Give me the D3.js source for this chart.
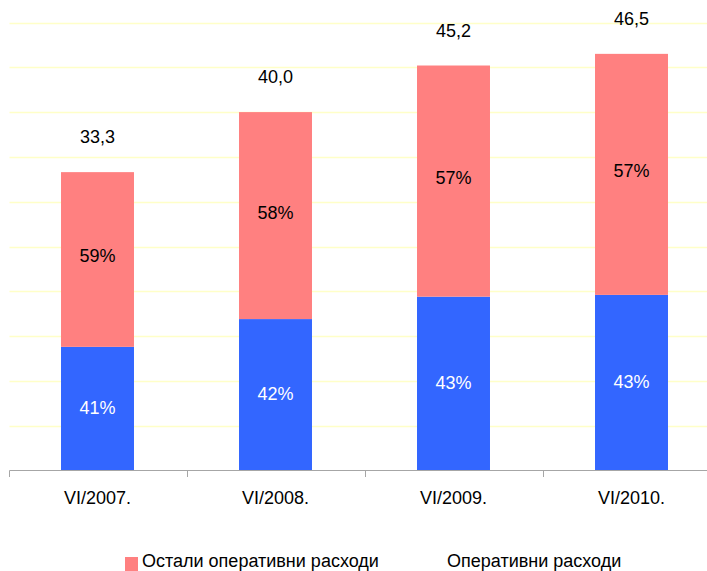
<!DOCTYPE html>
<html><head><meta charset="utf-8">
<script src="https://cdn.jsdelivr.net/npm/d3@7"></script>
<style>body{margin:0;background:#fff;overflow:hidden}svg{display:block;font-family:"Liberation Sans",Arial,sans-serif}</style>
</head><body>
<svg id="c" width="707" height="571"></svg>
<script>
const categories = ["VI/2007.", "VI/2008.", "VI/2009.", "VI/2010."];
const operativeValues = [13.8, 16.9, 19.4, 19.6];
const otherValues = [19.5, 23.1, 25.8, 26.9];
const totalLabels = ["33,3", "40,0", "45,2", "46,5"];
const operativePct = ["41%", "42%", "43%", "43%"];
const otherPct = ["59%", "58%", "57%", "57%"];
const seriesNames = ["Остали оперативни расходи", "Оперативни расходи"];

const svg = d3.select("#c");
const x = d3.scaleBand().domain(categories).range([8.5, 720.5]).paddingInner(0.59).paddingOuter(0.295);
const y = d3.scaleLinear().domain([0, 50]).range([470.5, 22.5]);

// gridlines
svg.append("g").selectAll("line").data(y.ticks(10).filter(d => d > 0)).join("line")
  .attr("x1", 9.5).attr("x2", 707)
  .attr("y1", d => Math.round(y(d)) + 0.5).attr("y2", d => Math.round(y(d)) + 0.5)
  .attr("stroke", "#ffffc8").attr("stroke-width", 1.5);

const data = categories.map((c, i) => ({c, a: operativeValues[i], b: otherValues[i], i}));

// bars
const g = svg.append("g");
g.selectAll("rect.op").data(data).join("rect")
  .attr("x", d => x(d.c)).attr("width", x.bandwidth())
  .attr("y", d => y(d.a)).attr("height", d => y(0) - y(d.a))
  .attr("fill", "#3366ff");
g.selectAll("rect.ot").data(data).join("rect")
  .attr("x", d => x(d.c)).attr("width", x.bandwidth())
  .attr("y", d => y(d.a + d.b)).attr("height", d => y(d.a) - y(d.a + d.b))
  .attr("fill", "#ff8080");

// labels
const cx = d => x(d.c) + x.bandwidth() / 2;
g.selectAll("text.op").data(data).join("text")
  .attr("x", cx).attr("y", d => (y(0) + y(d.a)) / 2 + 5)
  .attr("text-anchor", "middle").attr("font-size", 18).attr("fill", "#fff")
  .text(d => operativePct[d.i]);
g.selectAll("text.ot").data(data).join("text")
  .attr("x", cx).attr("y", d => (y(d.a) + y(d.a + d.b)) / 2 + 3)
  .attr("text-anchor", "middle").attr("font-size", 18).attr("fill", "#000")
  .text(d => otherPct[d.i]);
g.selectAll("text.tot").data(data).join("text")
  .attr("x", cx).attr("y", d => y(d.a + d.b) - 29)
  .attr("text-anchor", "middle").attr("font-size", 18).attr("fill", "#000")
  .text(d => totalLabels[d.i]);

// x axis
const step = x.step();
const bounds = categories.map(c => x(c) + x.bandwidth() / 2 - step / 2);
bounds.push(bounds[bounds.length - 1] + step);
const ax = svg.append("g");
ax.append("line").attr("x1", 9.5).attr("x2", 721.5).attr("y1", 470.5).attr("y2", 470.5).attr("stroke", "#a6a6a6");
ax.selectAll("line.t").data(bounds).join("line")
  .attr("x1", d => Math.round(d) + 0.5).attr("x2", d => Math.round(d) + 0.5)
  .attr("y1", 470.5).attr("y2", 477).attr("stroke", "#a6a6a6");
ax.selectAll("text").data(categories).join("text")
  .attr("x", c => x(c) + x.bandwidth() / 2).attr("y", 504)
  .attr("text-anchor", "middle").attr("font-size", 18).attr("fill", "#000")
  .text(c => c);

// legend
const lg = svg.append("g");
lg.append("rect").attr("x", 125).attr("y", 557).attr("width", 13).attr("height", 14).attr("fill", "#ff8080");
lg.append("text").attr("x", 142).attr("y", 567).attr("font-size", 18).attr("fill", "#000").text(seriesNames[0]);
lg.append("text").attr("x", 447).attr("y", 567).attr("font-size", 18).attr("fill", "#000").text(seriesNames[1]);
</script>
</body></html>
